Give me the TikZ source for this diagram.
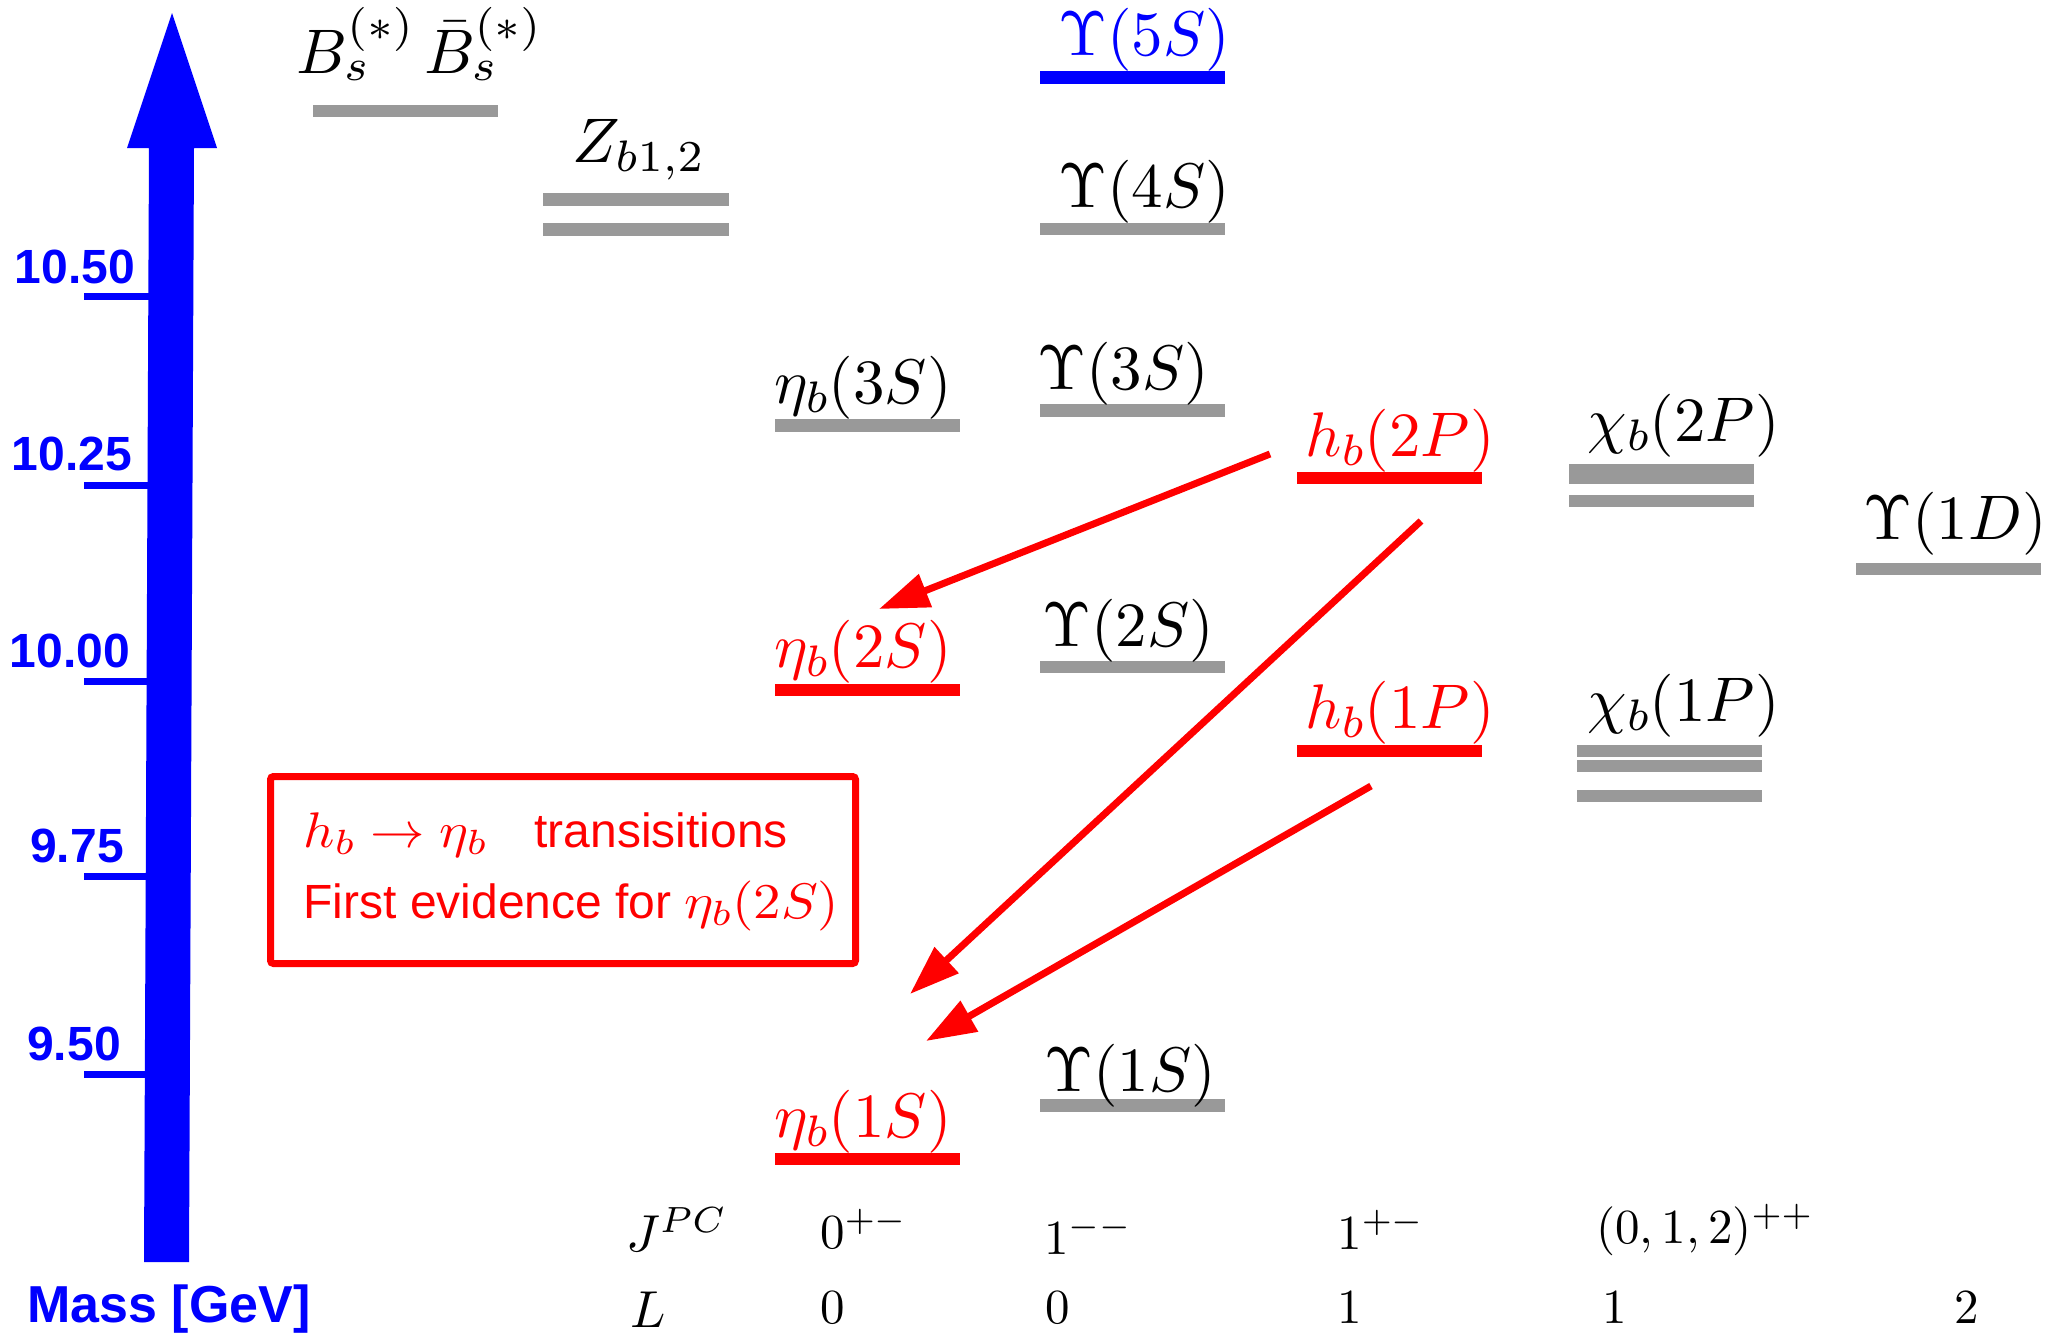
\documentclass[tikz,border=0pt]{standalone}
\usepackage[no-math]{fontspec}
\usepackage{graphicx}
\newfontfamily\arial{Liberation Sans}
\DeclareFontShape{OT1}{cmr}{m}{n}{<-14>cmr5<14-23>cmr7<23->cmr10}{}
\DeclareFontShape{OML}{cmm}{m}{it}{<-14>cmmi5<14-23>cmmi7<23->cmmi10}{}
\DeclareFontShape{OMS}{cmsy}{m}{n}{<-14>cmsy5<14-23>cmsy7<23->cmsy10}{}
\DeclareFontShape{OMX}{cmex}{m}{n}{<->cmex10}{}
\usetikzlibrary{arrows.meta}
\definecolor{bargray}{RGB}{153,153,153}
\definecolor{mred}{RGB}{255,0,0}
\definecolor{mblue}{RGB}{0,0,255}
\begin{document}
\begin{tikzpicture}[x=0.5pt,y=-0.5pt,
  lab/.style={inner sep=0pt, anchor=base west, font=\fontsize{31.5}{38}\selectfont},
  sml/.style={inner sep=0pt, anchor=base west, font=\fontsize{24.5}{30}\selectfont},
  big/.style={inner sep=0pt, anchor=base west, font=\fontsize{26}{30}\selectfont},
  ticklab/.style={inner sep=0pt, anchor=base, text=mblue, font=\arial\bfseries\fontsize{24}{28}\selectfont},
  boxtxt/.style={inner sep=0pt, anchor=base west, text=mred, font=\arial\fontsize{24}{28}\selectfont},
  boxmath/.style={inner sep=0pt, anchor=base west, text=mred, font=\fontsize{25}{30}\selectfont},
  tickline/.style={draw=mblue, line width=3.5pt},
  gbar/.style={fill=bargray},
  rbar/.style={fill=mred},
  transarrow/.style={draw=mred, line width=3.5pt, -{Triangle[length=25pt,width=17pt]}}]
\useasboundingbox (0,0) rectangle (2050,1334);

% mass axis arrow
\fill[mblue] (149,148) -- (127,148) -- (172,13) -- (217,148) -- (194,148) -- (189,1262) -- (144,1262) -- cycle;
\draw[tickline] (84,296) -- (150,296);
\draw[tickline] (84,485) -- (150,485);
\draw[tickline] (84,681) -- (149,681);
\draw[tickline] (84,876) -- (148,876);
\draw[tickline] (84,1074) -- (147,1074);
\node[ticklab] (t1050) at (75,283) {10.50};
\node[ticklab] (t1025) at (72,470) {10.25};
\node[ticklab] (t1000) at (70,667) {10.00};
\node[ticklab] (t975) at (77,862) {9.75};
\node[ticklab] (t950) at (74,1060) {9.50};
\node[inner sep=0pt, anchor=base west, text=mblue, font=\arial\bfseries\fontsize{26}{30}\selectfont] (mass) at (27,1322) {Mass [GeV]};

% level bars
\fill[gbar] (313,105) rectangle (498,117);
\fill[gbar] (543,193) rectangle (729,206);
\fill[gbar] (543,223) rectangle (729,236);
\fill[mblue] (1040,71) rectangle (1225,84);
\fill[gbar] (1040,223) rectangle (1225,235);
\fill[gbar] (1040,404) rectangle (1225,417);
\fill[gbar] (775,419) rectangle (960,432);
\fill[rbar] (775,684) rectangle (960,696);
\fill[gbar] (1040,661) rectangle (1225,673);
\fill[rbar] (775,1153) rectangle (960,1165);
\fill[gbar] (1040,1099) rectangle (1225,1112);
\fill[rbar] (1297,472) rectangle (1482,484);
\fill[gbar] (1569,464) rectangle (1754,484);
\fill[gbar] (1569,495) rectangle (1754,507);
\fill[gbar] (1856,563) rectangle (2041,575);
\fill[rbar] (1297,745) rectangle (1482,757);
\fill[gbar] (1577,745) rectangle (1762,757);
\fill[gbar] (1577,760) rectangle (1762,772);
\fill[gbar] (1577,790) rectangle (1762,802);

% state labels
\node[lab] (bsbs) at (296,73) {$B_s^{(*)}\,\bar{B}_s^{(*)}$};
\node[lab] (zb) at (572,162) {$Z_{b1,2}$};
\node[lab, text=mblue] (u5s) at (1058,55) {$\Upsilon(5S)$};
\node[lab] (u4s) at (1058,207) {$\Upsilon(4S)$};
\node[lab] (u3s) at (1037,389) {$\Upsilon(3S)$};
\node[lab] (eb3s) at (774,403) {$\eta_b(3S)$};
\node[lab, text=mred] (eb2s) at (774,667) {$\eta_b(2S)$};
\node[lab] (u2s) at (1042,646) {$\Upsilon(2S)$};
\node[lab, text=mred] (eb1s) at (774,1137) {$\eta_b(1S)$};
\node[lab] (u1s) at (1044,1091) {$\Upsilon(1S)$};
\node[lab, text=mred] (hb2p) at (1305,456) {$h_b(2P)$};
\node[lab] (chi2p) at (1587,441) {$\chi_b(2P)$};
\node[lab] (u1d) at (1863,539) {$\Upsilon(1D)$};
\node[lab, text=mred] (hb1p) at (1305,728) {$h_b(1P)$};
\node[lab] (chi1p) at (1587,721) {$\chi_b(1P)$};

% transitions
\coordinate (a1s) at (1270,454);
\coordinate (a1e) at (879,609);
\coordinate (a2s) at (1421,521);
\coordinate (a2e) at (910,994);
\coordinate (a3s) at (1371,786);
\coordinate (a3e) at (926,1041);
\draw[transarrow] (a1s) -- (a1e);
\draw[transarrow] (a2s) -- (a2e);
\draw[transarrow] (a3s) -- (a3e);

% box
\draw[mred, line width=3.5pt, rounded corners=1.5pt] (270.5,776.5) rectangle (855.5,963.5);
\node[boxmath] (bx1) at (303,847) {\scalebox{1.09}[1]{$h_b\to\eta_b$}};
\node[boxtxt] (bx2) at (534,847) {transisitions};
\node[boxtxt] (bx3) at (303,918) {First evidence for};
\node[boxmath] (bx4) at (684,918) {\scalebox{1.1}[1]{$\eta_b(2S)$}};

% quantum numbers
\node[big] (jpc) at (626,1251) {$J^{PC}$};
\node[sml] (j1) at (820,1248) {$0^{+-}$};
\node[sml] (j2) at (1044,1254) {$1^{--}$};
\node[sml] (j3) at (1337,1249) {$1^{+-}$};
\node[sml] (j4) at (1596,1243) {$(0,1,2)^{++}$};
\node[big] (lL) at (630,1327) {$L$};
\node[sml] (l1) at (820,1323) {$0$};
\node[sml] (l2) at (1045,1323) {$0$};
\node[sml] (l3) at (1337,1323) {$1$};
\node[sml] (l4) at (1602,1323) {$1$};
\node[sml] (l5) at (1954,1323) {$2$};
\end{tikzpicture}
\end{document}
